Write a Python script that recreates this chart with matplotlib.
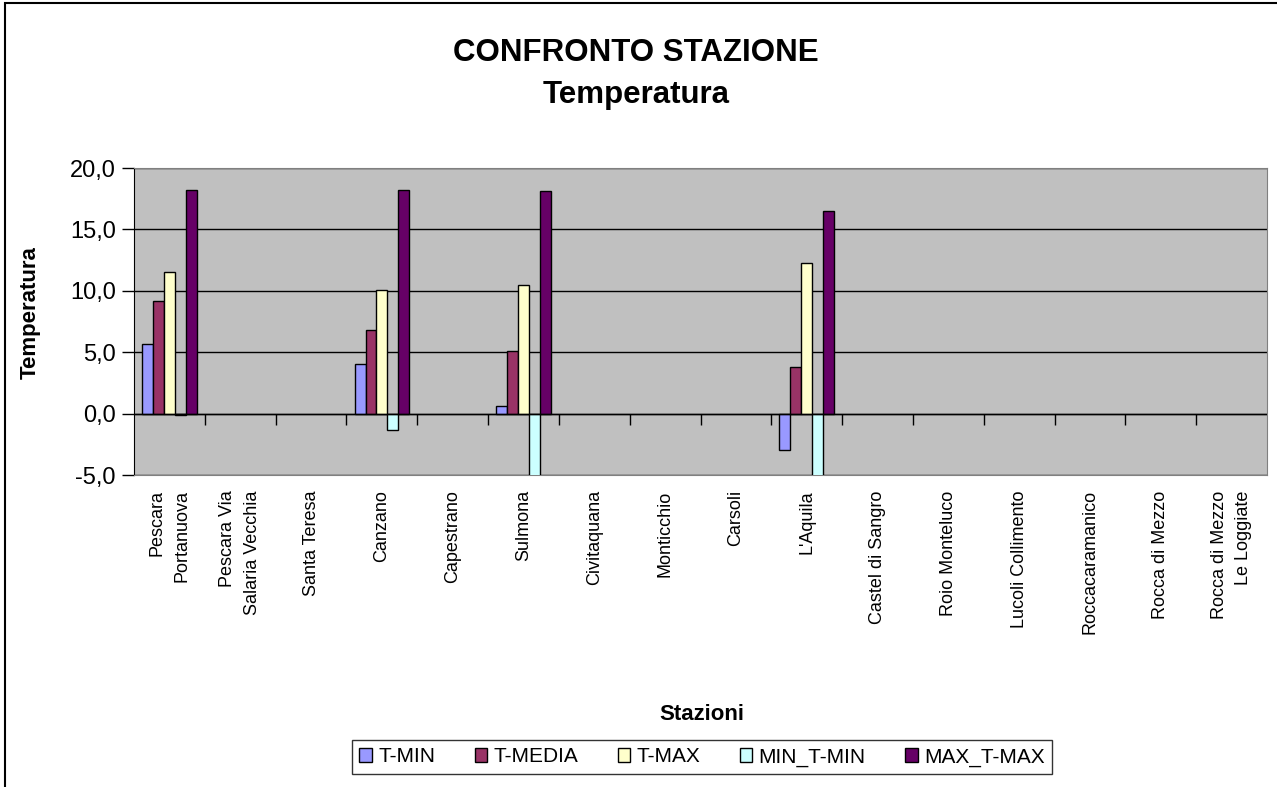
import numpy as np
import matplotlib.pyplot as plt
from matplotlib.patches import Rectangle

plt.rcParams['font.family'] = ['Liberation Sans', 'DejaVu Sans']

stazioni = ["Pescara\nPortanuova", "Pescara Via\nSalaria Vecchia", "Santa Teresa",
            "Canzano", "Capestrano", "Sulmona", "Civitaquana", "Monticchio",
            "Carsoli", "L'Aquila", "Castel di Sangro", "Roio Monteluco",
            "Lucoli Collimento", "Roccacaramanico", "Rocca di Mezzo",
            "Rocca di Mezzo\nLe Loggiate"]

nan = np.nan
t_min = [5.7, nan, nan, 4.0, nan, 0.6, nan, nan, nan, -3.0, nan, nan, nan, nan, nan, nan]
t_media = [9.2, nan, nan, 6.8, nan, 5.1, nan, nan, nan, 3.8, nan, nan, nan, nan, nan, nan]
t_max = [11.5, nan, nan, 10.1, nan, 10.5, nan, nan, nan, 12.3, nan, nan, nan, nan, nan, nan]
min_t_min = [-0.1, nan, nan, -1.3, nan, -5.1, nan, nan, nan, -8.0, nan, nan, nan, nan, nan, nan]
max_t_max = [18.2, nan, nan, 18.2, nan, 18.1, nan, nan, nan, 16.5, nan, nan, nan, nan, nan, nan]

serie = [("T-MIN", t_min, "#9999FF"),
         ("T-MEDIA", t_media, "#993366"),
         ("T-MAX", t_max, "#FFFFCC"),
         ("MIN_T-MIN", min_t_min, "#CCFFFF"),
         ("MAX_T-MAX", max_t_max, "#660066")]

fig = plt.figure(figsize=(12.77, 7.87), dpi=100)
ax = fig.add_axes([134/1277, 1 - 475/787, (1267 - 134)/1277, (475 - 168)/787])
ax.set_facecolor("#C0C0C0")

x = np.arange(len(stazioni))
w = 1 / 6.5
for i, (nome, vals, col) in enumerate(serie):
    ax.bar(x + (i - 2) * w, vals, w, color=col, edgecolor="black", linewidth=1, label=nome, zorder=3)

ax.set_xlim(-0.5, len(stazioni) - 0.5)
ax.set_ylim(-5, 20)
yt = [-5, 0, 5, 10, 15, 20]
ax.set_yticks(yt)
ax.set_yticklabels([f"{v:.1f}".replace(".", ",") for v in yt], fontsize=17)
ax.yaxis.grid(True, color="black", linewidth=1, zorder=1)
ax.set_axisbelow(True)
ax.axhline(0, color="black", linewidth=1, zorder=4)
ax.tick_params(axis="y", direction="out", length=9, width=1, pad=4)

ax.set_xticks(x)
ax.set_xticklabels(stazioni, rotation=90, fontsize=13, va="top", ha="center",
                   multialignment="right", linespacing=1.6)
ax.tick_params(axis="x", length=0, pad=11)

sec = ax.secondary_xaxis(0.2)
sec.set_xticks(np.arange(0.5, len(stazioni) - 0.5, 1))
sec.set_xticklabels([])
sec.tick_params(direction="out", length=8, width=1)
sec.spines["bottom"].set_visible(False)

for s in ["top", "right", "bottom"]:
    ax.spines[s].set_color("#808080")
ax.spines["left"].set_color("black")

fig.text(30/1277, 1 - 313/787, "Temperatura", fontsize=16, fontweight="bold",
         rotation=90, ha="center", va="center")
fig.text(636/1277, 1 - 53/787, "CONFRONTO STAZIONE", fontsize=22.5, fontweight="bold", ha="center", va="center")
fig.text(636/1277, 1 - 95/787, "Temperatura", fontsize=22.5, fontweight="bold", ha="center", va="center")
fig.text(702/1277, 1 - 714/787, "Stazioni", fontsize=16, fontweight="bold", ha="center", va="center")

leg = fig.legend(loc="center", bbox_to_anchor=(702/1277, 1 - 757/787), ncol=5, fontsize=15,
                 frameon=True, fancybox=False, edgecolor="black", handlelength=0.6, handleheight=0.7,
                 handletextpad=0.3, columnspacing=1.9, borderpad=0.35)
leg.get_frame().set_linewidth(1)

fig.patches.append(Rectangle((5/1277, -0.1), 1.2, 1.1 - 3/787, transform=fig.transFigure,
                             fill=False, edgecolor="black", linewidth=1.5))

fig.savefig("out.png", dpi=100)
